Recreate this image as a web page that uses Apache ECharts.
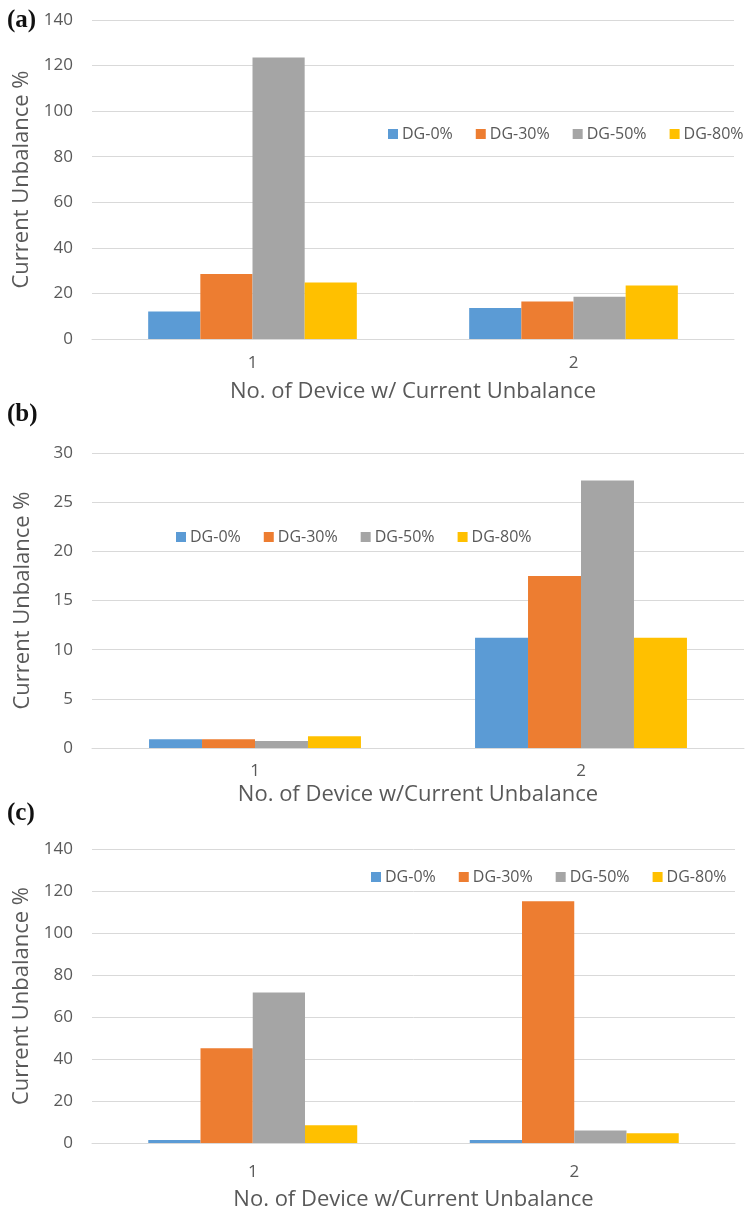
<!DOCTYPE html>
<html>
<head>
<meta charset="utf-8">
<script src="https://cdn.jsdelivr.net/npm/echarts@6/dist/echarts.min.js"></script>
<style>
  html, body { margin: 0; padding: 0; background: #ffffff; }
  #chart { width: 749px; height: 1212px; }
</style>
</head>
<body>
<div id="chart"></div>
<script>
// Categories and series shared by the three panels
const categories = ['1', '2'];
const seriesNames = ['DG-0%', 'DG-30%', 'DG-50%', 'DG-80%'];
const seriesColors = ['#5B9BD5', '#ED7D31', '#A5A5A5', '#FFC000'];

// Panel (a) values, one array per DG level
const a_dg0 = [12.1, 13.6];
const a_dg30 = [28.5, 16.5];
const a_dg50 = [123.5, 18.5];
const a_dg80 = [24.8, 23.5];

// Panel (b) values
const b_dg0 = [0.9, 11.2];
const b_dg30 = [0.9, 17.5];
const b_dg50 = [0.7, 27.2];
const b_dg80 = [1.2, 11.2];

// Panel (c) values
const c_dg0 = [1.4, 1.4];
const c_dg30 = [45.1, 115.1];
const c_dg50 = [71.7, 6.0];
const c_dg80 = [8.4, 4.7];

// Y axis ranges per panel
const yMaxA = 140, yStepA = 20;
const yMaxB = 30, yStepB = 5;
const yMaxC = 140, yStepC = 20;

const xTitleA = 'No. of Device w/ Current Unbalance';
const xTitleB = 'No. of Device w/Current Unbalance';
const xTitleC = 'No. of Device w/Current Unbalance';
const yTitle = 'Current Unbalance %';
const panelTags = ['(a)', '(b)', '(c)'];

const FONT = '"Open Sans", "DejaVu Sans", sans-serif';
const TEXT = '#595959';
const GRID_LINE = '#D9D9D9';

const panels = [
  { data: [a_dg0, a_dg30, a_dg50, a_dg80], max: yMaxA, step: yStepA, xTitle: xTitleA,
    grid: { left: 92, top: 20, width: 642, height: 319 }, legend: { left: 383, top: 121 },
    labelMargin: 16, nameGap: 42, tagY: 22 },
  { data: [b_dg0, b_dg30, b_dg50, b_dg80], max: yMaxB, step: yStepB, xTitle: xTitleB,
    grid: { left: 92, top: 453, width: 652, height: 295 }, legend: { left: 171, top: 524 },
    labelMargin: 15, nameGap: 36, tagY: 416 },
  { data: [c_dg0, c_dg30, c_dg50, c_dg80], max: yMaxC, step: yStepC, xTitle: xTitleC,
    grid: { left: 92, top: 849, width: 643, height: 295 }, legend: { left: 366, top: 864 },
    labelMargin: 21, nameGap: 46, tagY: 815 }
];

const option = {
  animation: false,
  backgroundColor: '#ffffff',
  textStyle: { fontFamily: FONT },
  grid: [], xAxis: [], yAxis: [], legend: [], series: [],
  graphic: []
};

panels.forEach((p, i) => {
  option.grid.push(Object.assign({ containLabel: false }, p.grid));
  option.xAxis.push({
    type: 'category', gridIndex: i, data: categories,
    name: p.xTitle, nameLocation: 'middle', nameGap: p.nameGap,
    nameTextStyle: { color: TEXT, fontSize: 22, fontFamily: FONT },
    axisLine: { show: true, lineStyle: { color: GRID_LINE, width: 1 } },
    axisTick: { show: false },
    axisLabel: { color: TEXT, fontSize: 17, margin: p.labelMargin, fontFamily: FONT }
  });
  option.yAxis.push({
    type: 'value', gridIndex: i, min: 0, max: p.max, interval: p.step,
    name: yTitle, nameLocation: 'middle', nameGap: 58, nameRotate: 90,
    nameTextStyle: { color: TEXT, fontSize: 22, fontFamily: FONT },
    axisLine: { show: false }, axisTick: { show: false },
    axisLabel: { color: TEXT, fontSize: 17, margin: 19, fontFamily: FONT },
    splitLine: { show: true, lineStyle: { color: GRID_LINE, width: 1 } }
  });
  option.legend.push({
    left: p.legend.left, top: p.legend.top, orient: 'horizontal',
    data: seriesNames, icon: 'rect', itemWidth: 10, itemHeight: 10, itemGap: 23,
    textStyle: { color: TEXT, fontSize: 16, fontFamily: FONT, padding: [0, 0, 0, -1] },
    selectedMode: false
  });
  seriesNames.forEach((name, k) => {
    option.series.push({
      type: 'bar', name: name, xAxisIndex: i, yAxisIndex: i,
      data: p.data[k], barGap: '0%', barCategoryGap: '35%',
      itemStyle: { color: seriesColors[k] }
    });
  });
  option.graphic.push({
    type: 'text', left: 7, top: p.tagY - 14,
    style: { text: panelTags[i], font: 'bold 25px "Liberation Serif", "DejaVu Serif", serif', fill: '#111111' }
  });
});

const chart = echarts.init(document.getElementById('chart'), null, { renderer: 'canvas' });
chart.setOption(option);
</script>
</body>
</html>
